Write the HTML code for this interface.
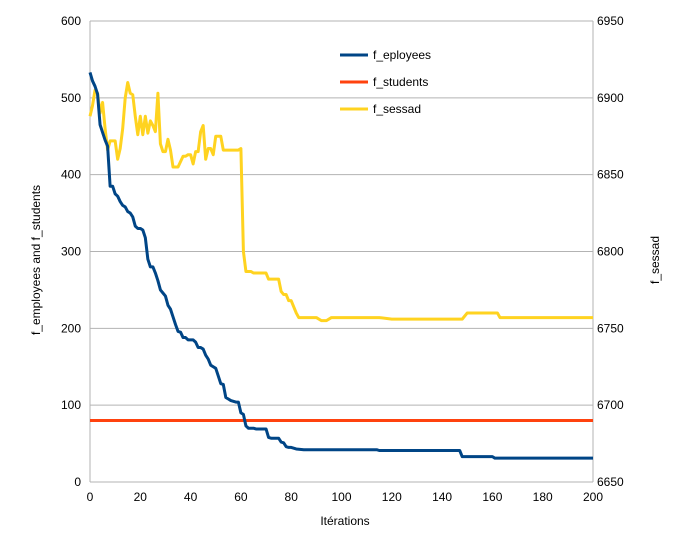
<!DOCTYPE html>
<html><head><meta charset="utf-8"><style>
body{margin:0;background:#fff;font-family:"Liberation Sans",sans-serif;}
svg text{font-family:"Liberation Sans",sans-serif;font-size:12px;fill:#000;}
</style></head><body>
<svg width="677" height="533">
<g id="grid"></g><g id="series"></g><g id="axes"></g>
<g>
<line x1="340" y1="55" x2="368" y2="55" stroke="#004586" stroke-width="3"/><text x="373" y="59">f_eployees</text>
<line x1="340" y1="82" x2="368" y2="82" stroke="#ff420e" stroke-width="3"/><text x="373" y="86">f_students</text>
<line x1="340" y1="109" x2="368" y2="109" stroke="#ffd320" stroke-width="3"/><text x="373" y="113">f_sessad</text>
</g>
<text transform="translate(40,260) rotate(-90)" text-anchor="middle">f_employees and f_students</text>
<text transform="translate(659,260) rotate(-90)" text-anchor="middle">f_sessad</text>
<text x="345" y="525" text-anchor="middle">Itérations</text>
</svg>
<script>
const empX=[0,1,2,3,4,5,6,7,8,9,10,11,12,13,14,15,16,17,18,19,20,21,22,23,24,25,26,27,28,29,30,31,32,33,34,35,36,37,38,39,40,41,42,43,44,45,46,47,48,49,50,51,52,53,54,55,56,57,58,59,60,61,62,63,64,65,66,67,68,69,70,71,72,73,74,75,76,77,78,79,80,82,85,114,115,147,148,150,160,161,200];
const empY=[533,522,515,505,465,455,445,437,385,385,375,372,365,360,358,352,350,345,333,330,330,328,318,290,280,280,272,262,250,246,242,230,225,215,205,196,195,188,188,185,185,185,182,175,175,173,165,160,152,150,148,138,128,127,110,108,106,105,104,104,90,88,73,70,70,70,69,69,69,69,69,58,57,57,57,57,52,51,46,45,45,43,42,42,41,41,33,33,33,31,31];
const stuX=[0,200];
const stuY=[80,80];
const sesX=[0,1,2,3,4,5,6,7,8,9,10,11,12,13,14,15,16,17,18,19,20,21,22,23,24,25,26,27,28,29,30,31,32,33,34,35,37,38,39,40,41,42,43,44,45,46,47,48,49,50,51,52,53,54,56,57,58,59,60,61,62,64,65,70,71,75,76,77,78,79,80,82,83,90,92,94,96,115,120,148,150,162,163,200];
const sesY=[6888,6895,6905,6903,6890,6897,6880,6866,6872,6872,6872,6860,6867,6880,6900,6910,6903,6902,6888,6876,6888,6876,6888,6877,6885,6882,6878,6903,6870,6865,6865,6873,6866,6855,6855,6855,6862,6862,6863,6863,6857,6865,6865,6878,6882,6860,6867,6867,6863,6875,6875,6875,6866,6866,6866,6866,6866,6866,6867,6800,6787,6787,6786,6786,6782,6782,6774,6772,6772,6768,6768,6760,6757,6757,6755,6755,6757,6757,6756,6756,6760,6760,6757,6757];
const xTicks=[0,20,40,60,80,100,120,140,160,180,200];
const yTicks=[0,100,200,300,400,500,600];
const y2Ticks=[6650,6700,6750,6800,6850,6900,6950];
const L=90,R=593,T=21,B=482;
const sx=v=>L+(v-0)/200*(R-L);
const sy=v=>B-v/600*(B-T);
const sy2=v=>B-(v-6650)/300*(B-T);
const NS="http://www.w3.org/2000/svg";
function mk(t,a,p){const e=document.createElementNS(NS,t);for(const k in a)e.setAttribute(k,a[k]);p.appendChild(e);return e;}
const grid=document.getElementById('grid'),axes=document.getElementById('axes'),ser=document.getElementById('series');
yTicks.forEach((v,i)=>{
 const g=mk('line',{x1:L,x2:R,y1:sy(v),y2:sy(v),stroke:'#b3b3b3'},grid);
 
 
 const t=mk('text',{x:L-9,y:sy(v)+4,'text-anchor':'end'},axes);t.textContent=v;
 
 
});
y2Ticks.forEach(v=>{
 const t=mk('text',{x:R+4,y:sy2(v)+4},axes);t.textContent=v;
 
 
});
xTicks.forEach(v=>{
 const t=mk('text',{x:sx(v),y:B+19,'text-anchor':'middle'},axes);t.textContent=v;
 
 
});
mk('line',{x1:L,x2:L,y1:T,y2:B,stroke:'#b3b3b3'},grid);
mk('line',{x1:R,x2:R,y1:T,y2:B,stroke:'#b3b3b3'},grid);
function line(xs,ys,f,c,name){
 const p=mk('polyline',{points:xs.map((x,i)=>sx(x)+','+f(ys[i])).join(' '),fill:'none',stroke:c,'stroke-width':3,'stroke-linejoin':'round'},ser);
 
 
}
line(sesX,sesY,sy2,'#ffd320','series-f-sessad');
line(stuX,stuY,sy,'#ff420e','series-f-students');
line(empX,empY,sy,'#004586','series-f-employees');
</script>
</body></html>
